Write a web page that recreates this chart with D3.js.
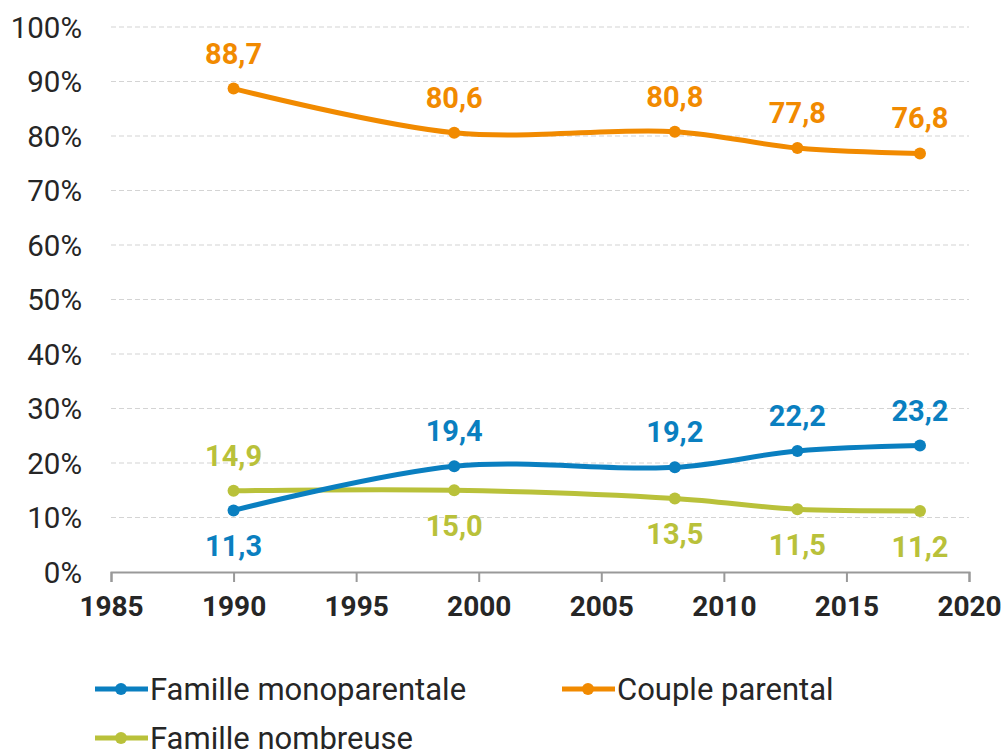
<!DOCTYPE html>
<html><head><meta charset="utf-8">
<script src="https://cdn.jsdelivr.net/npm/d3@7"></script>
<style>body{margin:0;background:#fff;}svg{display:block;font-family:Roboto,sans-serif;}</style>
</head><body>
<svg id="c" width="1007" height="752"></svg>
<script>
const years = [1990, 1999, 2008, 2013, 2018];
const mono = [11.3, 19.4, 19.2, 22.2, 23.2];
const couple = [88.7, 80.6, 80.8, 77.8, 76.8];
const nombreuse = [14.9, 15.0, 13.5, 11.5, 11.2];
const xTicks = [1985, 1990, 1995, 2000, 2005, 2010, 2015, 2020];
const yTicks = [0, 10, 20, 30, 40, 50, 60, 70, 80, 90, 100];
const seriesNames = ["Famille monoparentale", "Couple parental", "Famille nombreuse"];
const colors = ["#0a7fc0", "#f18a00", "#b9c13a"];
// label placement: 1 above, -1 below
const monoPos = [-1, 1, 1, 1, 1];
const couplePos = [1, 1, 1, 1, 1];
const nombPos = [1, -1, -1, -1, -1];

const svg = d3.select("#c");
const x = d3.scaleLinear().domain([1985, 2020]).range([111, 969]);
const y = d3.scaleLinear().domain([0, 100]).range([572, 27]);
const fmt = v => d3.format(".1f")(v).replace(".", ",");

// gridlines
svg.append("g").selectAll("line").data(yTicks.filter(d => d > 0)).join("line")
  .attr("x1", x(1985)).attr("x2", x(2020)).attr("y1", d => y(d)).attr("y2", d => y(d))
  .attr("stroke", "#d4d4d4").attr("stroke-width", 1.2).attr("stroke-dasharray", "5,3");

// y labels
svg.append("g").selectAll("text").data(yTicks).join("text")
  .attr("x", 82).attr("y", d => y(d)).attr("dy", "0.36em").attr("text-anchor", "end")
  .attr("font-size", 29.5).attr("fill", "#262626").text(d => d + "%");

// x axis
const xa = svg.append("g").attr("transform", `translate(0,${y(0)})`)
  .call(d3.axisBottom(x).tickValues(xTicks).tickFormat(d3.format("d")).tickSize(10).tickPadding(14));
xa.select(".domain").attr("stroke", "#999").attr("stroke-width", 2);
xa.selectAll(".tick line").attr("stroke", "#999").attr("stroke-width", 2);
xa.selectAll("text").attr("font-size", 28).attr("font-weight", "bold").attr("fill", "#262626")
  .attr("font-family", "Roboto,sans-serif");

const series = [
  {vals: mono, pos: monoPos, color: colors[0]},
  {vals: couple, pos: couplePos, color: colors[1]},
  {vals: nombreuse, pos: nombPos, color: colors[2]}
];
const line = d3.line().x(d => x(d[0])).y(d => y(d[1])).curve(d3.curveCatmullRom.alpha(0.5));

// draw order: nombreuse, mono, couple
[2, 0, 1].forEach(i => {
  const s = series[i];
  const pts = years.map((yr, j) => [yr, s.vals[j]]);
  const g = svg.append("g");
  g.append("path").attr("d", line(pts)).attr("fill", "none").attr("stroke", s.color).attr("stroke-width", 5);
  g.selectAll("circle").data(pts).join("circle").attr("cx", d => x(d[0])).attr("cy", d => y(d[1]))
    .attr("r", 6).attr("fill", s.color);
});
[0, 1, 2].forEach(i => {
  const s = series[i];
  svg.append("g").selectAll("text").data(years).join("text")
    .attr("x", d => x(d)).attr("y", (d, j) => y(s.vals[j]) + (s.pos[j] > 0 ? -25 : 46))
    .attr("text-anchor", "middle").attr("font-size", 29).attr("font-weight", "bold")
    .attr("fill", s.color).text((d, j) => fmt(s.vals[j]));
});

// legend
const legPos = [[95, 689], [562, 689], [95, 738]];
seriesNames.forEach((n, i) => {
  const [lx, ly] = legPos[i];
  const g = svg.append("g");
  g.append("line").attr("x1", lx).attr("x2", lx + 53).attr("y1", ly).attr("y2", ly)
    .attr("stroke", colors[i]).attr("stroke-width", 5);
  g.append("circle").attr("cx", lx + 26).attr("cy", ly).attr("r", 6).attr("fill", colors[i]);
  g.append("text").attr("x", lx + 55).attr("y", ly).attr("dy", "0.36em").attr("font-size", 31)
    .attr("fill", "#262626").text(n);
});
</script>
</body></html>
